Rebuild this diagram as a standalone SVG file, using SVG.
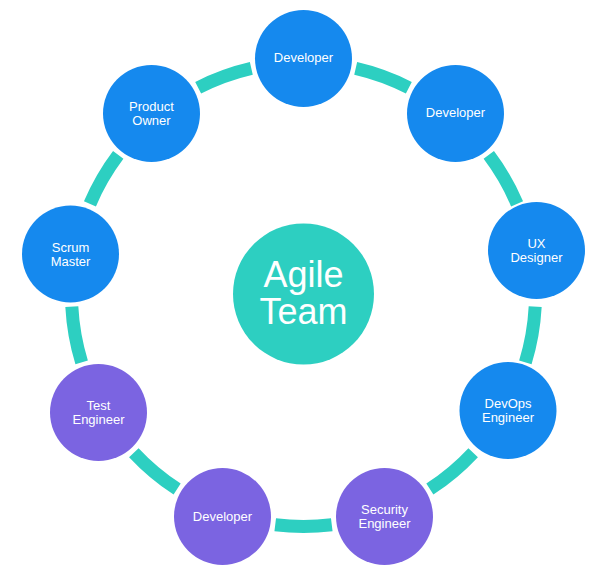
<svg xmlns="http://www.w3.org/2000/svg" width="610" height="570" viewBox="0 0 610 570">
<style>
.blue{fill:#1589EE}
.purple{fill:#7B64E1}
.hub{fill:#2DCFC1}
.arc{fill:none;stroke:#2DCFC1;stroke-width:13;stroke-linecap:butt}
text{font-family:"Liberation Sans",Arial,sans-serif;fill:#fff;text-anchor:middle}
.lbl{font-size:13px}
.big{font-size:36px}
</style>
<rect width="610" height="570" fill="#fff"/>
<g id="connectors">
<path class="arc" d="M355.69 68.45 A232 232 0 0 1 408.83 87.79"/>
<path class="arc" d="M488.78 154.88 A232 232 0 0 1 517.06 203.85"/>
<path class="arc" d="M535.18 306.64 A232 232 0 0 1 525.36 362.33"/>
<path class="arc" d="M473.17 452.72 A232 232 0 0 1 429.86 489.07"/>
<path class="arc" d="M331.77 524.77 A232 232 0 0 1 275.23 524.77"/>
<path class="arc" d="M177.14 489.07 A232 232 0 0 1 133.83 452.72"/>
<path class="arc" d="M81.64 362.33 A232 232 0 0 1 71.82 306.64"/>
<path class="arc" d="M89.94 203.85 A232 232 0 0 1 118.22 154.88"/>
<path class="arc" d="M198.17 87.79 A232 232 0 0 1 251.31 68.45"/>
</g>
<g id="agile-team">
<circle class="hub" cx="303.5" cy="294" r="70.5"/>
<text class="big" x="303.5" y="287">Agile</text>
<text class="big" x="303.5" y="324">Team</text>
</g>
<g id="developer-top">
<circle class="blue" cx="303.5" cy="58.5" r="48.5"/>
<text class="lbl" x="303.5" y="62">Developer</text>
</g>
<g id="developer-right">
<circle class="blue" cx="455.5" cy="113.5" r="48.5"/>
<text class="lbl" x="455.5" y="117">Developer</text>
</g>
<g id="ux-designer">
<circle class="blue" cx="536.5" cy="250.5" r="48.5"/>
<text class="lbl" x="536.5" y="247.5">UX</text>
<text class="lbl" x="536.5" y="261.5">Designer</text>
</g>
<g id="devops-engineer">
<circle class="blue" cx="508" cy="410.5" r="48.5"/>
<text class="lbl" x="508" y="407.5">DevOps</text>
<text class="lbl" x="508" y="421.5">Engineer</text>
</g>
<g id="security-engineer">
<circle class="purple" cx="384.5" cy="516.5" r="48.5"/>
<text class="lbl" x="384.5" y="514">Security</text>
<text class="lbl" x="384.5" y="528">Engineer</text>
</g>
<g id="developer-bottom">
<circle class="purple" cx="222.5" cy="516.5" r="48.5"/>
<text class="lbl" x="222.5" y="520.5">Developer</text>
</g>
<g id="test-engineer">
<circle class="purple" cx="98.5" cy="412.5" r="48.5"/>
<text class="lbl" x="98.5" y="410">Test</text>
<text class="lbl" x="98.5" y="424">Engineer</text>
</g>
<g id="scrum-master">
<circle class="blue" cx="70.5" cy="254" r="48.5"/>
<text class="lbl" x="70.5" y="251.5">Scrum</text>
<text class="lbl" x="70.5" y="265.5">Master</text>
</g>
<g id="product-owner">
<circle class="blue" cx="151.5" cy="113.5" r="48.5"/>
<text class="lbl" x="151.5" y="111">Product</text>
<text class="lbl" x="151.5" y="125">Owner</text>
</g>
</svg>
